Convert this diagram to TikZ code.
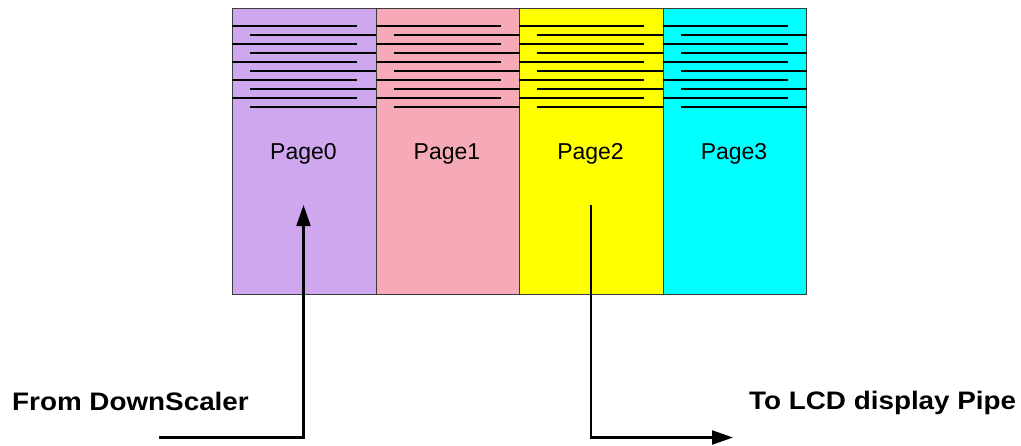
\documentclass[tikz,border=0pt]{standalone}
\usepackage{fontspec}
\setmainfont{Liberation Sans}
\usetikzlibrary{arrows.meta}
\definecolor{pgpurple}{RGB}{207,167,239}
\definecolor{pgpink}{RGB}{246,169,183}
\definecolor{pgyellow}{RGB}{255,255,0}
\definecolor{pgcyan}{RGB}{0,255,255}
\definecolor{edgegray}{RGB}{60,60,60}
\tikzset{
  pagebox/.style={draw=edgegray, line width=0.8pt, minimum width=143.5pt, minimum height=286pt, inner sep=0pt, anchor=north west},
  pagelabel/.style={anchor=base, inner sep=0pt, font=\fontsize{23}{26}\selectfont},
  rowline/.style={line width=2.5pt, black},
  flow/.style={line width=2.2pt, black, -{Triangle[length=21pt,width=14pt]}},
  biglabel/.style={inner sep=0pt, font=\fontsize{25.3}{28}\selectfont\bfseries}
}
\begin{document}
\begin{tikzpicture}[x=1pt,y=-1pt]
\useasboundingbox (0,0) rectangle (1021,445);
\node[pagebox, fill=pgpurple] (p0) at (232,8) {};
\node[pagebox, fill=pgpink]   (p1) at (375.5,8) {};
\node[pagebox, fill=pgyellow] (p2) at (519,8) {};
\node[pagebox, fill=pgcyan]   (p3) at (662.5,8) {};
\foreach \p in {p0,p1,p2,p3}{
  \foreach \k in {0,...,4}{
    \draw[rowline] ([yshift=-\k*18pt-18pt]\p.north west) -- ++(125,0);
    \draw[rowline] ([yshift=-\k*18pt-27pt,xshift=18pt]\p.north west) -- ([yshift=-\k*18pt-27pt]\p.north east);
  }
}
\node[pagelabel] (l0) at (303.5,159) {Page0};
\node[pagelabel] (l1) at (447,159) {Page1};
\node[pagelabel] (l2) at (590.5,159) {Page2};
\node[pagelabel] (l3) at (734,159) {Page3};
\coordinate (src) at (159,437.5);
\coordinate (in0) at (303.5,205);
\coordinate (out2) at (591,205);
\coordinate (dst) at (733,437.5);
\draw[flow] (src) -| (in0);
\draw[flow] (out2) |- (dst);
\node[biglabel, anchor=base west] (from) at (12,410) {\scalebox{1.1}[1]{From DownScaler}};
\node[biglabel, anchor=base west] (to) at (749,409) {\scalebox{1.1}[1]{To LCD display Pipe}};
\end{tikzpicture}
\end{document}
